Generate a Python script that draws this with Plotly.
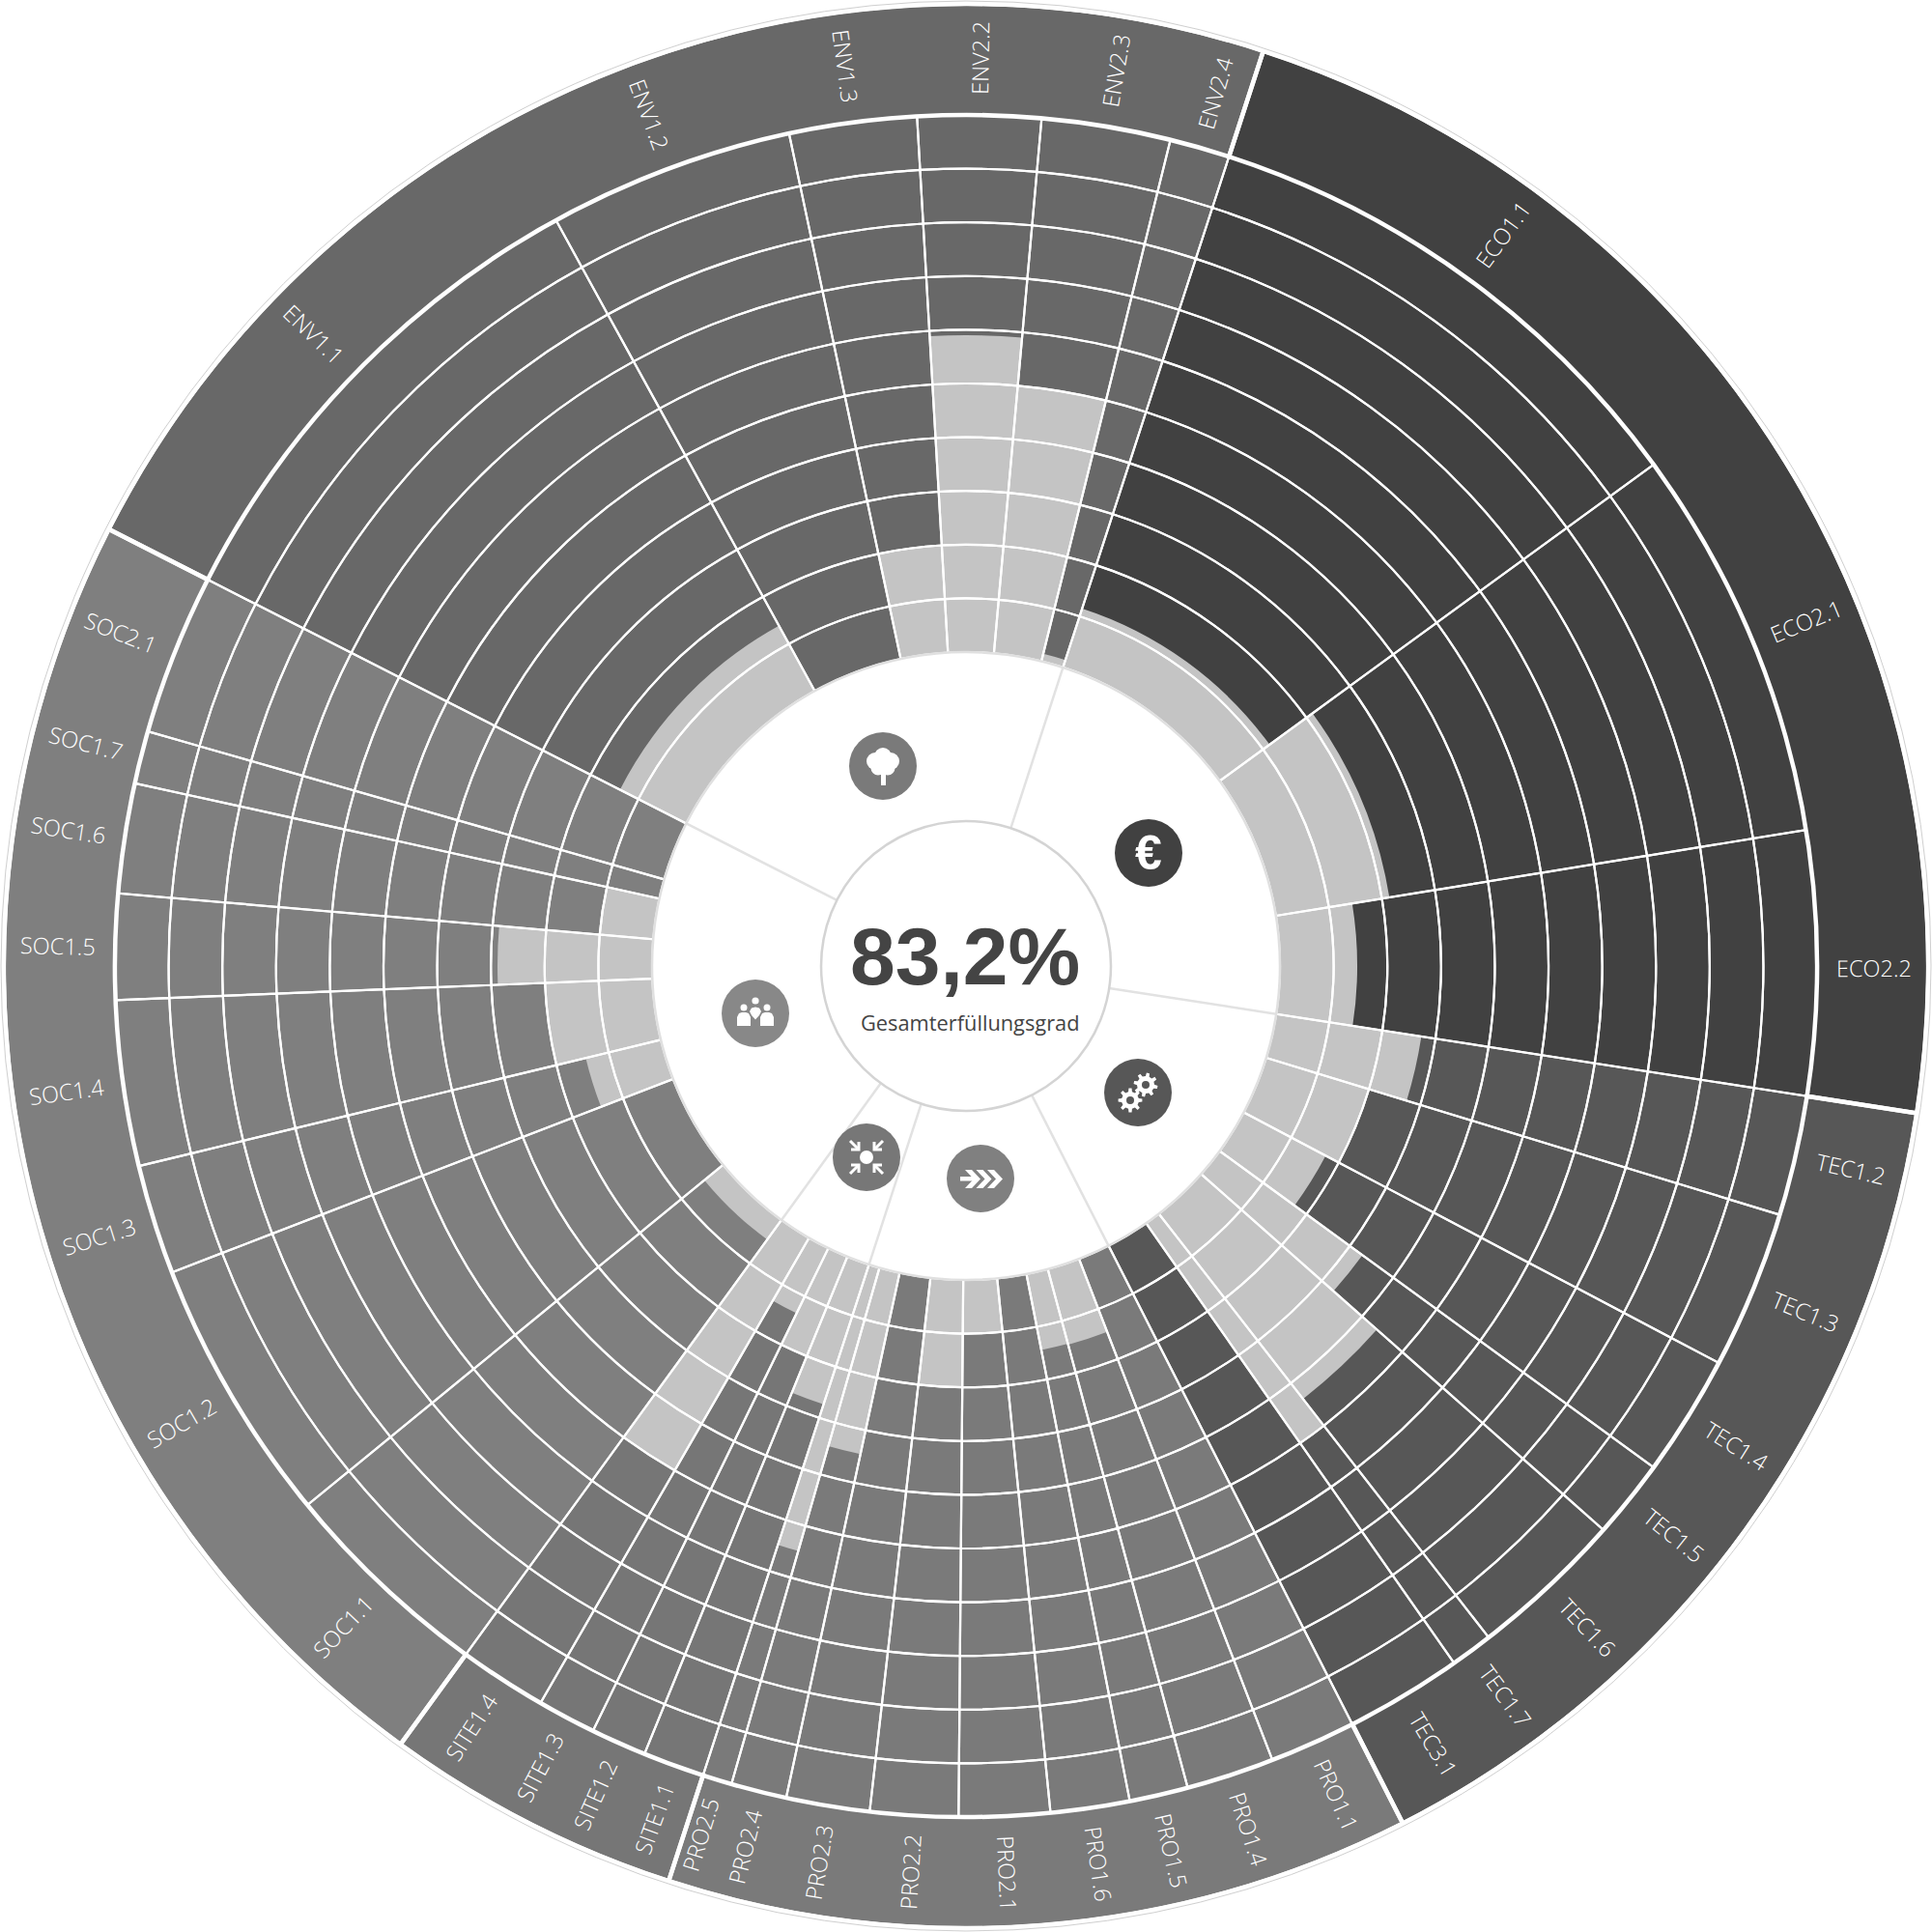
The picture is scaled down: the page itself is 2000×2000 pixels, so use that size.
import math
import plotly.graph_objects as go

# ---- data ----
pillar_names = ["ECO", "TEC", "PRO", "SITE", "SOC", "ENV"]
pillar_edges = [18.0, 98.8, 153.0, 198.0, 216.0, 297.0, 378.0]
pillar_colors = ["#414141", "#575757", "#7a7a7a", "#767676", "#7f7f7f", "#686868"]
pillar_of_segment = [0]*3 + [1]*7 + [2]*9 + [3]*4 + [4]*8 + [5]*6

segment_labels = [
    "ECO1.1", "ECO2.1", "ECO2.2",
    "TEC1.2", "TEC1.3", "TEC1.4", "TEC1.5", "TEC1.6", "TEC1.7", "TEC3.1",
    "PRO1.1", "PRO1.4", "PRO1.5", "PRO1.6", "PRO2.1", "PRO2.2", "PRO2.3", "PRO2.4", "PRO2.5",
    "SITE1.1", "SITE1.2", "SITE1.3", "SITE1.4",
    "SOC1.1", "SOC1.2", "SOC1.3", "SOC1.4", "SOC1.5", "SOC1.6", "SOC1.7", "SOC2.1",
    "ENV1.1", "ENV1.2", "ENV1.3", "ENV2.2", "ENV2.3", "ENV2.4",
]
segment_edges = [
    18.0, 53.9, 80.8,
    98.8, 107.0, 117.8, 126.1, 131.5, 142.1, 145.0,
    153.0, 158.9, 164.9, 168.9, 174.3, 180.5, 186.5, 192.2, 196.0,
    198.0, 202.2, 206.0, 210.0,
    216.0, 230.7, 248.9, 256.4, 267.7, 274.9, 282.4, 286.0,
    297.0, 331.2, 348.0, 356.7, 365.1, 373.9, 378.0,
]
fulfilled_radius = [
    389, 444, 405,
    477, 436, 421, 508, 568, 602, 325,
    325, 406, 405, 325, 380, 436, 325, 517, 630,
    477, 436, 400, 603,
    350, 325, 405, 436, 485, 380, 325, 325,
    402, 325, 436, 653, 603, 333,
]
band_count = 10
inner_radius = 325
grid_radius = 881
ring_radius = 994
center_radius = 150
total_text = "83,2%"
total_caption = "Gesamterfüllungsgrad"
light_color = "#c4c4c4"

# ---- derived ----
starts = segment_edges[:-1]
ends = segment_edges[1:]
mid = [(a + b) / 2 for a, b in zip(starts, ends)]
wid = [b - a for a, b in zip(starts, ends)]
seg_colors = [pillar_colors[p] for p in pillar_of_segment]
band = (grid_radius - inner_radius) / band_count
S = 2000.0


def X(px):
    return px / S


def Y(py):
    return 1 - py / S


fig = go.Figure()

common = dict(hoverinfo="skip", showlegend=False)
p_mid = [(a + b) / 2 for a, b in zip(pillar_edges[:-1], pillar_edges[1:])]
p_wid = [b - a for a, b in zip(pillar_edges[:-1], pillar_edges[1:])]
# label ring, one wedge per pillar
fig.add_trace(go.Barpolar(theta=p_mid, width=p_wid, base=[grid_radius] * 6,
                          r=[ring_radius - grid_radius] * 6,
                          marker=dict(color=pillar_colors, line=dict(width=0)), **common))
# unfulfilled background
fig.add_trace(go.Barpolar(theta=mid, width=wid, base=[inner_radius] * len(mid),
                          r=[grid_radius - inner_radius] * len(mid),
                          marker=dict(color=seg_colors, line=dict(width=0)), **common))
# fulfilled part
fig.add_trace(go.Barpolar(theta=mid, width=wid, base=[inner_radius] * len(mid),
                          r=[f - inner_radius for f in fulfilled_radius],
                          marker=dict(color=light_color, line=dict(width=0)), **common))
# white grid
for i in range(band_count):
    fig.add_trace(go.Barpolar(theta=mid, width=wid,
                              base=[inner_radius + i * band] * len(mid),
                              r=[band] * len(mid),
                              marker=dict(color="rgba(0,0,0,0)", line=dict(color="white", width=2.2)),
                              **common))
# thick pillar outlines in label ring
fig.add_trace(go.Barpolar(theta=p_mid, width=p_wid, base=[grid_radius] * 6,
                          r=[ring_radius + 2 - grid_radius] * 6,
                          marker=dict(color="rgba(0,0,0,0)", line=dict(color="white", width=4.5)),
                          **common))
# pale spokes in the white disc
for e in pillar_edges[:-1]:
    fig.add_trace(go.Scatterpolar(theta=[e, e], r=[center_radius, inner_radius], mode="lines",
                                  line=dict(color="#e2e2e2", width=2.5), **common))

shapes = []


def circle(cx, cy, r, fill=None, line=None, lw=0):
    shapes.append(dict(type="circle", xref="paper", yref="paper",
                       x0=X(cx - r), x1=X(cx + r), y0=Y(cy + r), y1=Y(cy - r),
                       fillcolor=fill if fill else "rgba(0,0,0,0)",
                       line=dict(color=line if line else "rgba(0,0,0,0)", width=lw)))


def poly(points, fill="white", close=True, stroke=None, lw=0):
    d = "M " + " L ".join(f"{X(a):.6f} {Y(b):.6f}" for a, b in points) + (" Z" if close else "")
    shapes.append(dict(type="path", xref="paper", yref="paper", path=d,
                       fillcolor=fill if fill else "rgba(0,0,0,0)",
                       line=dict(color=stroke if stroke else "rgba(0,0,0,0)", width=lw)))


circle(1000, 1000, 999, line="#cfcfcf", lw=1)
circle(1000, 1000, inner_radius, line="#e0e0e0", lw=2.5)
circle(1000, 1000, center_radius, fill="white", line="#d4d4d4", lw=2.5)

# icon discs
circle(914, 793, 35, fill="#7a7a7a")
circle(1189, 883, 35, fill="#414141")
circle(1178, 1131, 35, fill="#575757")
circle(1015, 1220, 35, fill="#808080")
circle(897, 1198, 35, fill="#777777")
circle(782, 1049, 35, fill="#888888")

# tree
for cx, cy, r in [(914, 783, 9), (906, 788, 9), (922, 788, 9), (909, 795, 7.5), (919, 795, 7.5), (914, 790, 10)]:
    circle(cx, cy, r, fill="white")
poly([(912, 798), (917, 798), (917, 813), (912, 813)])


# gears
def gear(cx, cy, ro, ri, hole, rot):
    pts = []
    n = 8
    for k in range(n):
        a = rot + k * 2 * math.pi / n
        w = math.pi / n
        for da, rr in [(-0.55 * w, ri), (-0.32 * w, ro), (0.32 * w, ro), (0.55 * w, ri)]:
            pts.append((cx + rr * math.cos(a + da), cy + rr * math.sin(a + da)))
    poly(pts)
    circle(cx, cy, hole, fill="#575757")


gear(1186, 1123, 12.5, 9, 4, 0.2)
gear(1170, 1139, 12.5, 9, 4, 0.0)

# site arrows
circle(897, 1198, 7, fill="white")
for sx, sy in [(-1, -1), (1, -1), (-1, 1), (1, 1)]:
    tip = (897 + 8 * sx, 1198 + 8 * sy)
    poly([(897 + 17 * sx, 1198 + 17 * sy), tip], fill=None, close=False, stroke="white", lw=3)
    poly([(tip[0], tip[1] + 8 * sy), tip, (tip[0] + 8 * sx, tip[1])], fill=None, close=False, stroke="white", lw=3)

# process arrows
poly([(994, 1218), (1008, 1218), (1008, 1222.5), (994, 1222.5)])
for off in [0, 11.5, 23]:
    poly([(1000 + off - 1, 1211), (1006 + off, 1211), (1015 + off, 1220.5), (1006 + off, 1230),
          (1000 + off - 1, 1230), (1008 + off, 1220.5)])

# people
circle(770, 1043, 3.5, fill="white")
circle(794, 1043, 3.5, fill="white")
circle(782, 1036, 3.6, fill="white")
for x0 in (763, 787):
    poly([(x0, 1062), (x0, 1053), (x0 + 2, 1049), (x0 + 5, 1048), (x0 + 9, 1048), (x0 + 12, 1049), (x0 + 14, 1053), (x0 + 14, 1062)])
poly([(776, 1047), (778, 1043.5), (782, 1042.5), (786, 1043.5), (788, 1047), (786, 1051), (782, 1055.5), (778, 1051)])

annotations = []
for label, th in zip(segment_labels, mid):
    t = th % 360
    ang = t - 90 if t < 180 else t - 270
    rad = math.radians(t + (0.35 if label.startswith("ECO") else 0))
    annotations.append(dict(x=X(1000 + 940 * math.sin(rad)), y=Y(1000 - 940 * math.cos(rad)),
                            xref="paper", yref="paper", text=label, showarrow=False,
                            textangle=ang, xanchor="center", yanchor="middle",
                            font=dict(family="Open Sans", size=23.5, color="#ffffff", weight=300)))
annotations.append(dict(x=X(999), y=Y(990), xref="paper", yref="paper", text=total_text, showarrow=False,
                        xanchor="center", yanchor="middle",
                        font=dict(family="Liberation Sans", size=84, color="#444444", weight="bold")))
annotations.append(dict(x=X(1005), y=Y(1058), xref="paper", yref="paper", text=total_caption, showarrow=False,
                        xanchor="center", yanchor="middle",
                        font=dict(family="Open Sans", size=21.8, color="#444444")))
annotations.append(dict(x=X(1189), y=Y(883), xref="paper", yref="paper", text="€", showarrow=False,
                        xanchor="center", yanchor="middle",
                        font=dict(family="Liberation Sans", size=50, color="white", weight="bold")))

fig.update_layout(
    width=2000, height=2000, autosize=False,
    margin=dict(l=0, r=0, t=0, b=0, pad=0),
    paper_bgcolor="white", showlegend=False, barmode="overlay",
    polar=dict(
        domain=dict(x=[0, 1], y=[0, 1]), bgcolor="white", barmode="overlay",
        radialaxis=dict(range=[0, 1000], visible=False),
        angularaxis=dict(direction="clockwise", rotation=90, visible=False),
    ),
    shapes=shapes, annotations=annotations,
)
fig.write_html("out.html", config=dict(displayModeBar=False),
               post_script="document.body.style.margin='0';document.documentElement.style.overflow='hidden';")
